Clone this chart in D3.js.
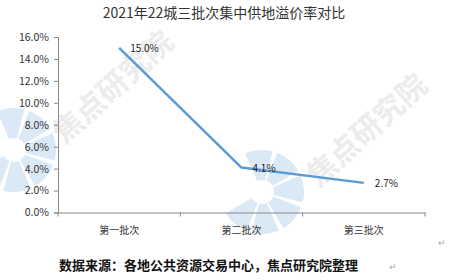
<!DOCTYPE html>
<html><head><meta charset="utf-8">
<script src="https://cdn.jsdelivr.net/npm/d3@7"></script>
<style>body{margin:0;background:#fff}svg{display:block}</style>
</head><body>
<script>
const title = "2021年22城三批次集中供地溢价率对比";
const categories = ["第一批次", "第二批次", "第三批次"];
const premiumRate = [15.0, 4.1, 2.7];
const yTicks = [0, 2, 4, 6, 8, 10, 12, 14, 16];
const source = "数据来源：各地公共资源交易中心，焦点研究院整理";
const watermark = "焦点研究院";

const W = 456, H = 280;
const svg = d3.select("body").append("svg").attr("width", W).attr("height", H);
const font = "'Noto Sans CJK SC','Noto Sans',sans-serif";

// watermarks
const wm = svg.append("g");
function fan(cx, cy, r0, r1) {
  const g = wm.append("g").attr("transform", `translate(${cx},${cy})`).attr("opacity", 0.5);
  const arc = d3.arc().innerRadius(r0).outerRadius(r1);
  const n = 6;
  for (let i = 0; i < n; i++) {
    const a0 = -Math.PI * 0.15 + i * (Math.PI * 1.5 / n);
    g.append("path").attr("d", arc({startAngle: a0 + 0.06, endAngle: a0 + Math.PI * 1.5 / n - 0.06}))
      .attr("fill", "#b9d4f0");
  }
}
fan(14, 150, 12, 42);
fan(262, 192, 12, 42);
function wmText(x, y) {
  wm.append("text").attr("transform", `translate(${x},${y}) rotate(-42)`)
    .attr("font-family", font).attr("font-size", 30).attr("font-weight", "bold")
    .attr("fill", "#ececec").text(watermark);
}
wmText(64, 145);
wmText(318, 188);

const x = d3.scaleBand().domain(categories).range([58, 425]).padding(0);
const y = d3.scaleLinear().domain([0, 16]).range([212.5, 37]);

// title
svg.append("text").attr("x", 224).attr("y", 18).attr("text-anchor", "middle")
  .attr("font-family", font).attr("font-size", 14).attr("fill", "#333").text(title);

// y axis
const yAxis = svg.append("g").attr("transform", "translate(58,0)")
  .call(d3.axisLeft(y).tickValues(yTicks).tickFormat(d => d.toFixed(1) + "%").tickSize(4).tickPadding(5));
yAxis.selectAll("path,line").attr("stroke", "#888");
yAxis.selectAll("text").attr("font-family", font).attr("font-size", 10.5).attr("fill", "#333");

// x axis
const xAxis = svg.append("g").attr("transform", "translate(0,212.5)")
  .call(d3.axisBottom(x).tickSize(0).tickPadding(14));
xAxis.select("path").attr("stroke", "#888");
xAxis.selectAll("text").attr("font-family", font).attr("font-size", 10).attr("fill", "#333");
// boundary ticks
const bounds = [x.range()[0]].concat(categories.map(c => x(c) + x.bandwidth()));
svg.append("g").selectAll("line").data(bounds).join("line")
  .attr("x1", d => d).attr("x2", d => d).attr("y1", 212.5).attr("y2", 216.5).attr("stroke", "#888");

// line
const line = d3.line().x((d, i) => x(categories[i]) + x.bandwidth() / 2).y(d => y(d));
svg.append("path").datum(premiumRate).attr("d", line).attr("fill", "none")
  .attr("stroke", "#5b9bd5").attr("stroke-width", 2.5).attr("stroke-linejoin", "round");

// labels
svg.append("g").selectAll("text").data(premiumRate).join("text")
  .attr("x", (d, i) => x(categories[i]) + x.bandwidth() / 2 + 11)
  .attr("y", d => y(d) + 4)
  .attr("font-family", font).attr("font-size", 10).attr("fill", "#222")
  .text(d => d.toFixed(1) + "%");

// source
svg.append("text").attr("x", 59).attr("y", 270)
  .attr("font-family", font).attr("font-size", 13).attr("font-weight", "bold").attr("fill", "#111")
  .text(source);
svg.append("text").attr("x", 389).attr("y", 270).attr("font-family", font).attr("font-size", 9).attr("fill", "#aaa").text("↵");
svg.append("text").attr("x", 438).attr("y", 246).attr("font-family", font).attr("font-size", 9).attr("fill", "#aaa").text("↵");
</script>
</body></html>
